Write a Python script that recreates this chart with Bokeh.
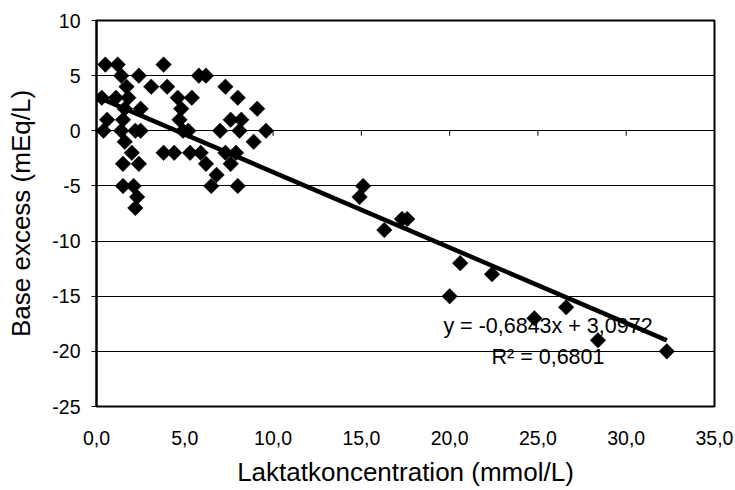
import math
from bokeh.plotting import figure
from bokeh.models import Label, FixedTicker
from bokeh.embed import file_html
from bokeh.resources import INLINE

# ---- data ----
lactate = [
    0.5, 1.2, 3.8,
    1.4, 2.4, 5.8, 6.2,
    1.7, 3.1, 4.0, 7.3,
    0.3, 1.1, 1.8, 4.6, 5.4, 8.0,
    1.6, 2.5, 4.8, 9.1,
    0.6, 1.5, 4.7, 7.6, 8.2,
    0.4, 1.4, 2.2, 2.5, 4.9, 5.2, 7.0, 8.1, 9.6,
    1.6, 8.9,
    2.0, 3.8, 4.4, 5.3, 5.9, 7.3, 7.9,
    1.5, 2.4, 6.2, 7.6,
    6.8,
    1.5, 2.1, 6.5, 8.0,
    2.3,
    2.2,
    14.9, 15.1, 16.3, 17.3, 17.6, 20.0, 20.6, 22.4, 24.8, 26.6, 28.4, 32.3,
]
base_excess = [
    6, 6, 6,
    5, 5, 5, 5,
    4, 4, 4, 4,
    3, 3, 3, 3, 3, 3,
    2, 2, 2, 2,
    1, 1, 1, 1, 1,
    0, 0, 0, 0, 0, 0, 0, 0, 0,
    -1, -1,
    -2, -2, -2, -2, -2, -2, -2,
    -3, -3, -3, -3,
    -4,
    -5, -5, -5, -5,
    -6,
    -7,
    -6, -5, -9, -8, -8, -15, -12, -13, -17, -16, -19, -20,
]
slope = -0.6843
intercept = 3.0972
r_squared = 0.6801
eq_text = "y = -0,6843x + 3,0972"
r2_text = "R² = 0,6801"
x_title = "Laktatkoncentration (mmol/L)"
y_title = "Base excess (mEq/L)"

x_ticks = [0, 5, 10, 15, 20, 25, 30, 35]
x_tick_labels = ["0,0", "5,0", "10,0", "15,0", "20,0", "25,0", "30,0", "35,0"]
y_ticks = [-25, -20, -15, -10, -5, 0, 5, 10]
y_tick_labels = ["-25", "-20", "-15", "-10", "-5", "0", "5", "10"]

FONT = "Liberation Sans"

p = figure(width=735, height=490, x_range=(0, 35), y_range=(-25, 10),
           output_backend="svg", toolbar_location=None,
           min_border_left=96, min_border_right=21,
           min_border_top=20, min_border_bottom=84)
p.background_fill_color = "white"
p.border_fill_color = "white"
p.outline_line_color = "black"
p.outline_line_width = 2

p.xgrid.visible = False
p.ygrid.ticker = FixedTicker(ticks=y_ticks)
p.ygrid.grid_line_color = "black"
p.ygrid.grid_line_width = 1

# x axis
p.xaxis.ticker = FixedTicker(ticks=x_ticks)
p.xaxis.major_label_overrides = {t: l for t, l in zip(x_ticks, x_tick_labels)}
p.xaxis.major_tick_out = 0
p.xaxis.major_tick_in = 0
p.xaxis.minor_tick_line_color = None
p.xaxis.axis_line_color = None
p.xaxis.major_label_standoff = 24
p.xaxis.major_label_text_font = FONT
p.xaxis.major_label_text_font_size = "19.5px"
p.xaxis.major_label_text_color = "black"
p.xaxis.axis_label = x_title
p.xaxis.axis_label_text_font = FONT
p.xaxis.axis_label_text_font_size = "26px"
p.xaxis.axis_label_text_font_style = "normal"
p.xaxis.axis_label_text_color = "black"
p.xaxis.axis_label_standoff = 9

# y axis
p.yaxis.ticker = FixedTicker(ticks=y_ticks)
p.yaxis.major_label_overrides = {t: l for t, l in zip(y_ticks, y_tick_labels)}
p.yaxis.major_tick_out = 5
p.yaxis.major_tick_in = 0
p.yaxis.major_tick_line_color = "black"
p.yaxis.minor_tick_line_color = None
p.yaxis.axis_line_color = "black"
p.yaxis.axis_line_width = 2
p.yaxis.major_label_standoff = 11
p.yaxis.major_label_text_font = FONT
p.yaxis.major_label_text_font_size = "19.5px"
p.yaxis.major_label_text_color = "black"
p.yaxis.axis_label = y_title
p.yaxis.axis_label_text_font = FONT
p.yaxis.axis_label_text_font_size = "26px"
p.yaxis.axis_label_text_font_style = "normal"
p.yaxis.axis_label_text_color = "black"
p.yaxis.axis_label_standoff = 13

# small tick marks where the category axis crosses at y = 0
p.ray(x=x_ticks, y=[0] * len(x_ticks), length=5, length_units="screen",
      angle=-math.pi / 2, line_color="black", line_width=1)

# trend line
x0, x1 = min(lactate), max(lactate)
p.line([x0, x1], [slope * x0 + intercept, slope * x1 + intercept],
       line_color="black", line_width=4.5)

# points
p.scatter(lactate, base_excess, marker="square", size=11, angle=math.pi / 4,
          fill_color="black", line_color="black", line_width=0.5)

# equation labels
p.add_layout(Label(x=25.57, y=-17.68, text=eq_text, text_font=FONT,
                   text_font_size="21.5px", text_color="black",
                   text_align="center", text_baseline="middle"))
p.add_layout(Label(x=25.57, y=-20.49, text=r2_text, text_font=FONT,
                   text_font_size="21.5px", text_color="black",
                   text_align="center", text_baseline="middle"))

open("out.html", "w").write(file_html(p, INLINE))
